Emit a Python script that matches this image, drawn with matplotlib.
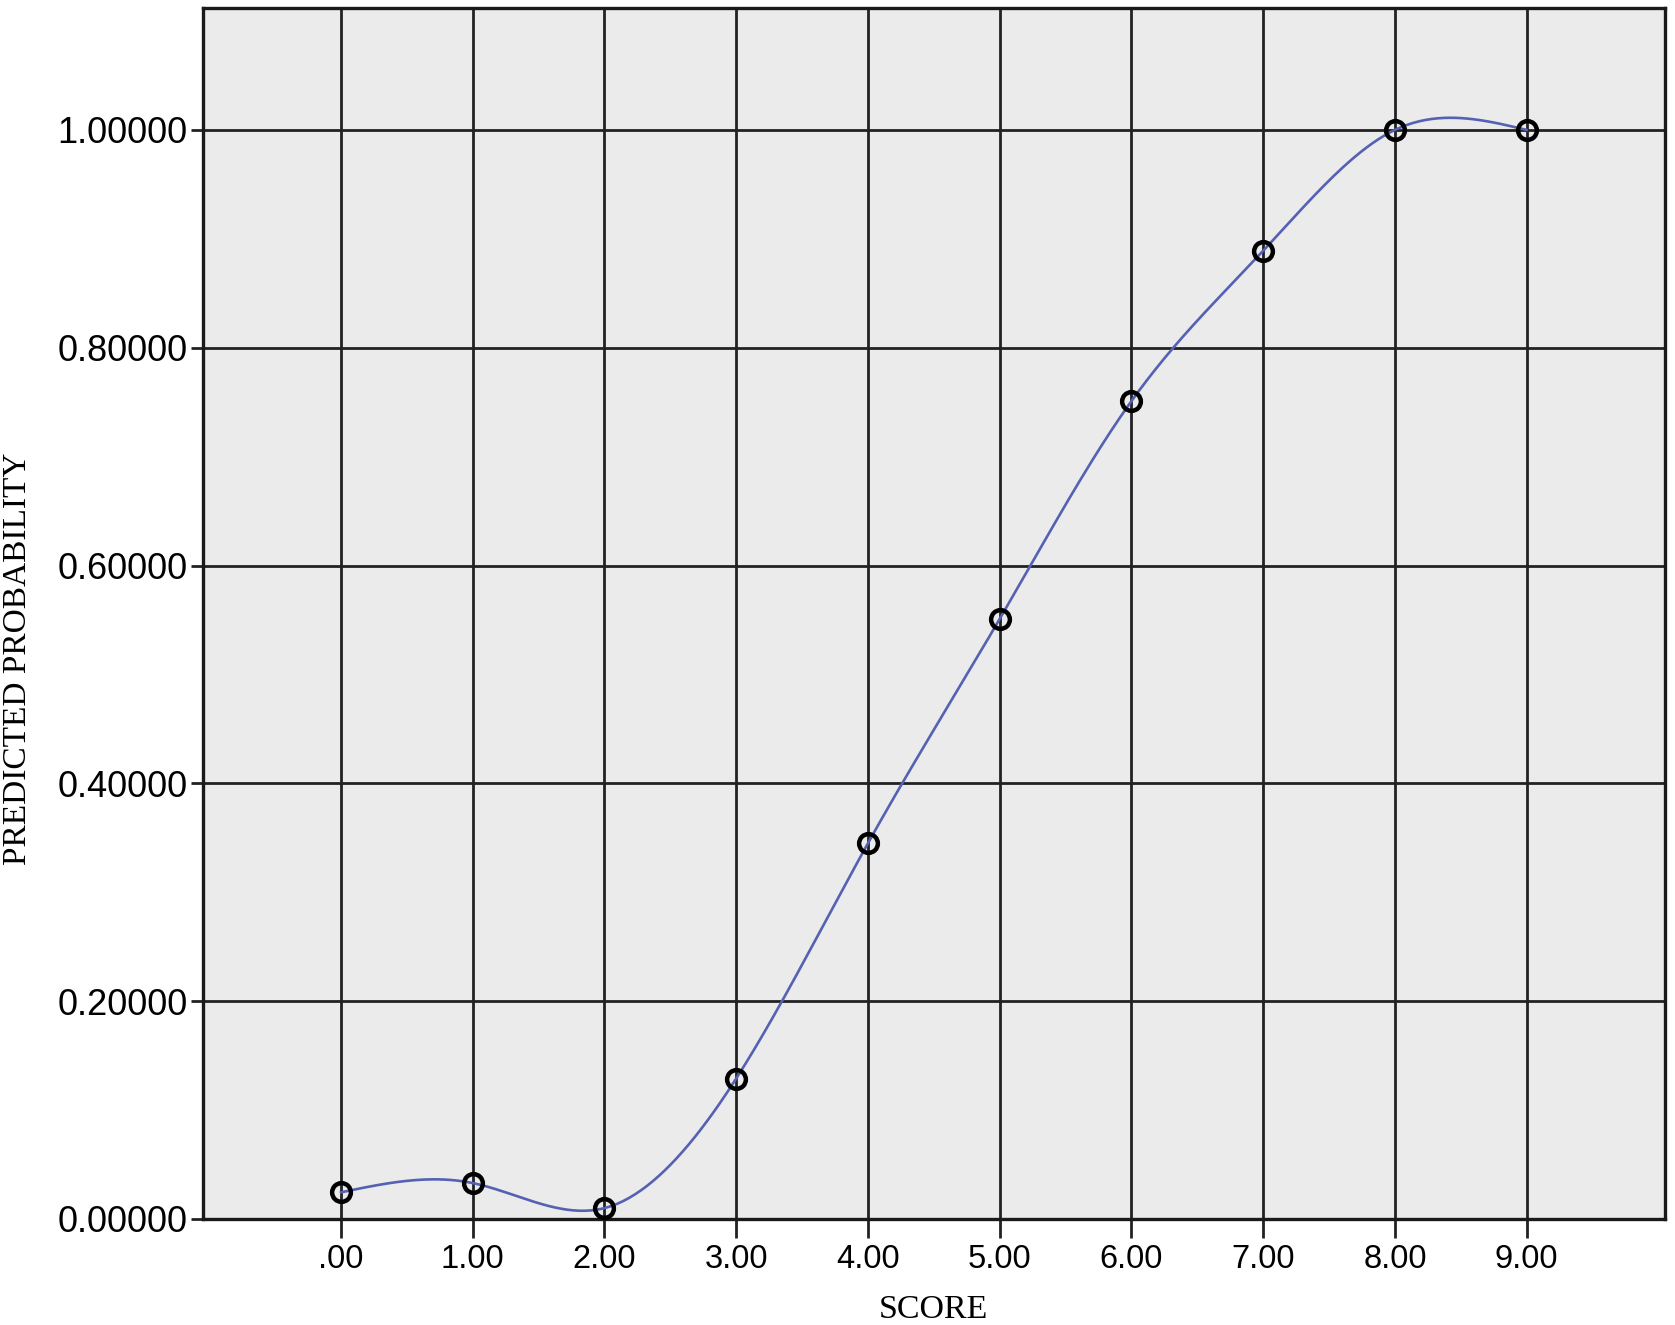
import numpy as np
import matplotlib.pyplot as plt

score = [0, 1, 2, 3, 4, 5, 6, 7, 8, 9]
prob = [0.0245, 0.0330, 0.0100, 0.1290, 0.3450, 0.5510, 0.7510, 0.8890, 1.0000, 1.0000]
xtick_labels = ['.00', '1.00', '2.00', '3.00', '4.00', '5.00', '6.00', '7.00', '8.00', '9.00']
yticks = [0.0, 0.2, 0.4, 0.6, 0.8, 1.0]


def natural_spline(x, y, n=400):
    # natural cubic spline through the points (smooth fit line like SPSS)
    x = np.asarray(x, float)
    y = np.asarray(y, float)
    k = len(x)
    h = np.diff(x)
    A = np.zeros((k, k))
    b = np.zeros(k)
    A[0, 0] = A[-1, -1] = 1
    for i in range(1, k - 1):
        A[i, i - 1] = h[i - 1]
        A[i, i] = 2 * (h[i - 1] + h[i])
        A[i, i + 1] = h[i]
        b[i] = 3 * ((y[i + 1] - y[i]) / h[i] - (y[i] - y[i - 1]) / h[i - 1])
    c = np.linalg.solve(A, b)
    xs = np.linspace(x[0], x[-1], n)
    idx = np.clip(np.searchsorted(x, xs) - 1, 0, k - 2)
    dx = xs - x[idx]
    hi = h[idx]
    bi = (y[idx + 1] - y[idx]) / hi - hi * (2 * c[idx] + c[idx + 1]) / 3
    di = (c[idx + 1] - c[idx]) / (3 * hi)
    ys = y[idx] + bi * dx + c[idx] * dx ** 2 + di * dx ** 3
    return xs, ys


fig = plt.figure(figsize=(16.75, 13.25), dpi=100)
ax = fig.add_axes([0.121, 0.080, 0.873, 0.914])
ax.set_facecolor('#ebebeb')

ax.set_xlim(-1.05, 10.05)
ax.set_ylim(0, 1.112)

ax.set_xticks(score)
ax.set_xticklabels(xtick_labels, family='Liberation Sans', fontsize=23.5)
ax.set_yticks(yticks)
ax.set_yticklabels(['%.5f' % v for v in yticks], family='Liberation Sans', fontsize=26)
ax.tick_params(axis='x', length=14, width=2, pad=4, color='#222222')
ax.tick_params(axis='y', length=9, width=2, pad=2, color='#222222')

ax.grid(True, color='#222222', linewidth=2.0)
ax.set_axisbelow(True)
for s in ax.spines.values():
    s.set_color('#1a1a1a')
    s.set_linewidth(2.4)

xs, ys = natural_spline(score, prob)
ax.plot(xs, ys, color='#5561b3', linewidth=1.9, zorder=3)
ax.plot(score, prob, 'o', markersize=13.5, markerfacecolor='none',
        markeredgecolor='black', markeredgewidth=3.2, zorder=4)

ax.set_xlabel('SCORE', family='Liberation Serif', fontsize=24.5, labelpad=14)
ax.set_ylabel('PREDICTED PROBABILITY', family='Liberation Serif', fontsize=24)
ax.yaxis.set_label_coords(-0.116, 0.463)

fig.savefig('out.png', dpi=100)
